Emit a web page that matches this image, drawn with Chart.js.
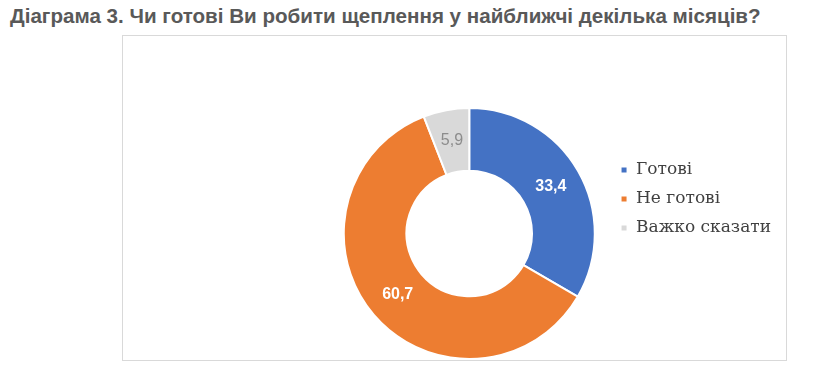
<!DOCTYPE html>
<html>
<head>
<meta charset="utf-8">
<script src="https://cdn.jsdelivr.net/npm/chart.js@4"></script>
<style>
  body { margin: 0; background: #fff; width: 838px; height: 377px; position: relative; overflow: hidden; }
  #title { position: absolute; left: 10px; top: 4px; font: bold 20.6px "Liberation Sans", Arial, sans-serif; color: #595959; white-space: nowrap; }
  #box { position: absolute; left: 122px; top: 35px; width: 665px; height: 326px; border: 1px solid #d9d9d9; box-sizing: border-box; }
</style>
</head>
<body>
<div id="title">Діаграма 3. Чи готові Ви робити щеплення у найближчі декілька місяців?</div>
<div id="box"><canvas id="vaccineChart" width="663" height="324"></canvas></div>
<script>
  const labels = ["Готові", "Не готові", "Важко сказати"];
  const values = [33.4, 60.7, 5.9];
  const colors = ["#4472C4", "#ED7D31", "#D9D9D9"];
  const labelColors = ["#ffffff", "#ffffff", "#8c8c8c"];

  // value labels in the middle of each slice, with comma decimals
  const sliceLabels = {
    id: "sliceLabels",
    afterDatasetsDraw(chart) {
      const ctx = chart.ctx;
      const meta = chart.getDatasetMeta(0);
      ctx.save();
      ctx.textAlign = "center";
      ctx.textBaseline = "middle";
      meta.data.forEach((arc, i) => {
        const pos = arc.tooltipPosition();
        ctx.fillStyle = labelColors[i];
        ctx.font = (i < 2 ? "bold " : "") + "16px 'Liberation Sans', Arial, sans-serif";
        ctx.fillText(values[i].toFixed(1).replace(".", ","), pos.x, pos.y);
      });
      ctx.restore();
    },
  };

  const ctx = document.getElementById("vaccineChart").getContext("2d");
  const myChart = new Chart(ctx, {
    type: "doughnut",
    data: {
      labels: labels,
      datasets: [
        {
          data: values,
          backgroundColor: colors,
          borderColor: "#ffffff",
          borderWidth: 2,
        },
      ],
    },
    options: {
      responsive: false,
      animation: false,
      cutout: "50%",
      layout: { padding: { top: 71, bottom: 0, left: 207, right: 5 } },
      plugins: {
        tooltip: { enabled: false },
        legend: {
          position: "right",
          align: "start",
          title: { display: true, text: "", padding: { top: 28, bottom: 0 } },
          labels: {
            boxWidth: 7,
            boxHeight: 7,
            padding: 12,
            color: "#404040",
            font: { family: "'DejaVu Serif', 'Liberation Serif', serif", size: 17 },
          },
        },
      },
    },
    plugins: [sliceLabels],
  });
</script>
</body>
</html>
